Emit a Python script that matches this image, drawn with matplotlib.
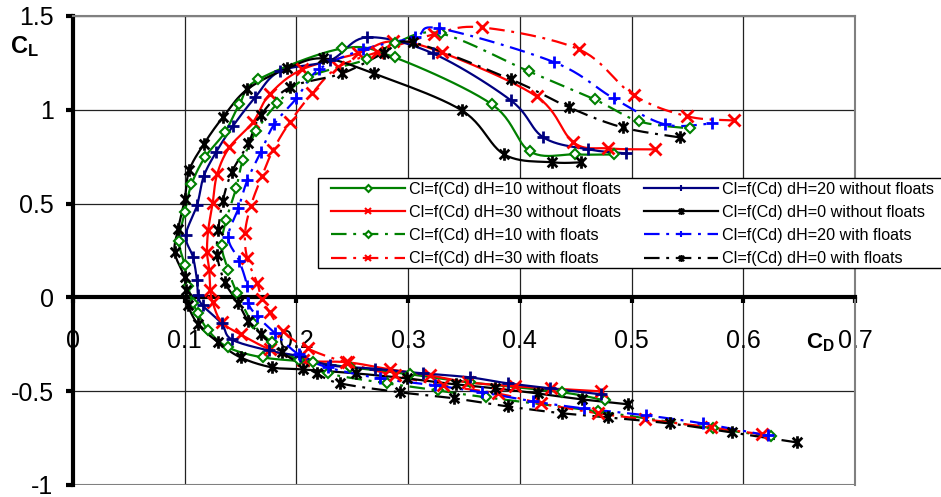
import numpy as np
import matplotlib
matplotlib.use('Agg')
import matplotlib.pyplot as plt
from matplotlib.path import Path
from matplotlib.patches import Rectangle

plt.rcParams['font.family'] = ['Liberation Sans', 'DejaVu Sans']
plt.rcParams['mathtext.fontset'] = 'custom'
plt.rcParams['mathtext.rm'] = 'Liberation Sans'
plt.rcParams['mathtext.bf'] = 'Liberation Sans:bold'

# dH=10 without floats
cd_10_no = [0.476, 0.438, 0.355, 0.302, 0.248, 0.215, 0.170, 0.139, 0.121, 0.112, 0.1075, 0.103, 0.100,
            0.095, 0.100, 0.106, 0.118, 0.136, 0.149, 0.166, 0.241, 0.288, 0.375, 0.409, 0.449, 0.484]
cl_10_no = [-0.549, -0.506, -0.453, -0.41, -0.373, -0.346, -0.320, -0.267, -0.176, -0.085, -0.032, 0.059, 0.171,
            0.299, 0.453, 0.602, 0.746, 0.880, 1.029, 1.162, 1.327, 1.279, 1.029, 0.778, 0.762, 0.762]

# dH=20 without floats
cd_20_no = [0.473, 0.427, 0.389, 0.355, 0.313, 0.27, 0.230, 0.203, 0.175, 0.142, 0.133, 0.116, 0.112, 0.111,
            0.1075, 0.101, 0.111, 0.117, 0.128, 0.143, 0.163, 0.185, 0.230, 0.263, 0.322, 0.392, 0.421,
            0.461, 0.495]
cl_20_no = [-0.517, -0.485, -0.458, -0.426, -0.405, -0.38, -0.362, -0.314, -0.283, -0.224, -0.139, -0.043, 0.011,
            0.091, 0.213, 0.330, 0.490, 0.645, 0.773, 0.912, 1.066, 1.205, 1.263, 1.386, 1.301, 1.050, 0.853,
            0.789, 0.768]

# dH=30 without floats
cd_30_no = [0.473, 0.428, 0.396, 0.354, 0.320, 0.284, 0.246, 0.206, 0.176, 0.150, 0.133, 0.125, 0.123, 0.122,
            0.120, 0.121, 0.125, 0.129, 0.140, 0.161, 0.176, 0.205, 0.255, 0.286, 0.330, 0.415, 0.448, 0.479,
            0.521]
cl_30_no = [-0.501, -0.485, -0.474, -0.453, -0.416, -0.384, -0.346, -0.336, -0.277, -0.197, -0.133, -0.027,
            0.037, 0.144, 0.240, 0.357, 0.501, 0.656, 0.800, 0.933, 1.082, 1.215, 1.301, 1.365, 1.306, 1.071,
            0.826, 0.794, 0.789]

# dH=0 without floats
cd_0_no = [0.497, 0.456, 0.416, 0.378, 0.343, 0.299, 0.253, 0.206, 0.178, 0.150, 0.130, 0.112, 0.103, 0.101,
           0.100, 0.091, 0.094, 0.100, 0.104, 0.117, 0.134, 0.156, 0.192, 0.224, 0.269, 0.348, 0.386, 0.429,
           0.455]
cl_0_no = [-0.570, -0.544, -0.512, -0.485, -0.464, -0.432, -0.405, -0.384, -0.373, -0.320, -0.240, -0.144,
           -0.043, 0.037, 0.107, 0.240, 0.362, 0.522, 0.677, 0.816, 0.959, 1.109, 1.221, 1.274, 1.194, 0.997,
           0.762, 0.720, 0.720]

# dH=10 with floats
cd_10_fl = [0.625, 0.573, 0.470, 0.370, 0.327, 0.281, 0.228, 0.202, 0.178, 0.161, 0.147, 0.139, 0.133, 0.137,
            0.146, 0.152, 0.164, 0.183, 0.210, 0.263, 0.288, 0.329, 0.408, 0.467, 0.507, 0.552]
cl_10_fl = [-0.741, -0.698, -0.608, -0.533, -0.496, -0.458, -0.405, -0.336, -0.240, -0.139, 0.021, 0.144,
            0.277, 0.410, 0.581, 0.730, 0.885, 1.034, 1.173, 1.269, 1.354, 1.407, 1.205, 1.055, 0.938, 0.901]

# dH=20 with floats
cd_20_fl = [0.622, 0.564, 0.513, 0.457, 0.412, 0.366, 0.324, 0.275, 0.228, 0.202, 0.181, 0.165, 0.157, 0.156,
            0.149, 0.139, 0.148, 0.156, 0.168, 0.180, 0.200, 0.220, 0.260, 0.306, 0.328, 0.431, 0.484, 0.530,
            0.572]
cl_20_fl = [-0.736, -0.672, -0.629, -0.592, -0.554, -0.506, -0.469, -0.432, -0.373, -0.304, -0.192, -0.101,
            -0.032, 0.059, 0.192, 0.320, 0.474, 0.624, 0.773, 0.922, 1.061, 1.215, 1.322, 1.386, 1.434, 1.253,
            1.061, 0.922, 0.928]

# dH=30 with floats
cd_30_fl = [0.617, 0.571, 0.512, 0.470, 0.419, 0.380, 0.331, 0.288, 0.244, 0.210, 0.188, 0.176, 0.169, 0.165,
            0.156, 0.154, 0.159, 0.169, 0.179, 0.194, 0.214, 0.237, 0.272, 0.323, 0.366, 0.453, 0.502, 0.550,
            0.592]
cl_30_fl = [-0.730, -0.693, -0.650, -0.618, -0.565, -0.512, -0.469, -0.416, -0.346, -0.272, -0.181, -0.080,
            -0.011, 0.075, 0.208, 0.341, 0.485, 0.645, 0.784, 0.933, 1.087, 1.226, 1.306, 1.402, 1.439, 1.322,
            1.077, 0.965, 0.943]

# dH=0 with floats
cd_0_fl = [0.648, 0.590, 0.534, 0.479, 0.438, 0.389, 0.341, 0.293, 0.239, 0.218, 0.187, 0.168, 0.157, 0.148,
           0.136, 0.129, 0.130, 0.134, 0.142, 0.157, 0.168, 0.194, 0.241, 0.278, 0.304, 0.392, 0.444, 0.492,
           0.543]
cl_0_fl = [-0.773, -0.720, -0.672, -0.640, -0.618, -0.581, -0.538, -0.506, -0.458, -0.405, -0.293, -0.197,
           -0.128, -0.032, 0.080, 0.224, 0.357, 0.512, 0.666, 0.821, 0.970, 1.119, 1.194, 1.301, 1.359, 1.162,
           1.013, 0.906, 0.853]

x_ticks = [0, 0.1, 0.2, 0.3, 0.4, 0.5, 0.6, 0.7]
x_tick_labels = ['0', '0.1', '0.2', '0.3', '0.4', '0.5', '0.6', '0.7']
y_ticks = [-1, -0.5, 0, 0.5, 1, 1.5]
y_tick_labels = ['-1', '-0.5', '0', '0.5', '1', '1.5']


def smooth(x, y, n=12):
    # Catmull-Rom through the points, like Excel's smoothed lines
    p = np.column_stack([x, y]).astype(float)
    p = np.vstack([p[0], p, p[-1]])
    out = []
    t = np.linspace(0, 1, n, endpoint=False)[:, None]
    for i in range(1, len(p) - 2):
        p0, p1, p2, p3 = p[i - 1], p[i], p[i + 1], p[i + 2]
        seg = 0.5 * ((2 * p1) + (-p0 + p2) * t + (2 * p0 - 5 * p1 + 4 * p2 - p3) * t ** 2
                     + (-p0 + 3 * p1 - 3 * p2 + p3) * t ** 3)
        out.append(seg)
    out.append(p[-2][None, :])
    out = np.vstack(out)
    return out[:, 0], out[:, 1]


# Excel style star: an x with a vertical bar through it
star = Path([(-1, -1), (1, 1), (-1, 1), (1, -1), (0, -1.3), (0, 1.3)],
            [Path.MOVETO, Path.LINETO, Path.MOVETO, Path.LINETO, Path.MOVETO, Path.LINETO])

dash_dot = (7, 3, 1.3, 3)

series = [
    (cd_10_no, cl_10_no, '#008000', 'D', None, 'Cl=f(Cd) dH=10 without floats'),
    (cd_30_no, cl_30_no, '#FF0000', 'x', None, 'Cl=f(Cd) dH=30 without floats'),
    (cd_10_fl, cl_10_fl, '#008000', 'D', dash_dot, 'Cl=f(Cd) dH=10 with floats'),
    (cd_30_fl, cl_30_fl, '#FF0000', 'x', dash_dot, 'Cl=f(Cd) dH=30 with floats'),
    (cd_20_no, cl_20_no, '#000080', '+', None, 'Cl=f(Cd) dH=20 without floats'),
    (cd_0_no, cl_0_no, '#000000', star, None, 'Cl=f(Cd) dH=0 without floats'),
    (cd_20_fl, cl_20_fl, '#0000FF', '+', dash_dot, 'Cl=f(Cd) dH=20 with floats'),
    (cd_0_fl, cl_0_fl, '#000000', star, dash_dot, 'Cl=f(Cd) dH=0 with floats'),
]

fig = plt.figure(figsize=(9.41, 4.97), dpi=100)
ax = fig.add_axes([73 / 941, 1 - 485 / 497, (855 - 73) / 941, (485 - 16) / 497])

handles = []
for cd, cl, col, mk, dashes, lab in series:
    sx, sy = smooth(cd, cl)
    ln, = ax.plot(sx, sy, color=col, lw=1.6, solid_capstyle='butt', dash_capstyle='butt', zorder=3)
    if dashes is not None:
        ln.set_dashes(dashes)
    if mk == 'D':
        ax.plot(cd, cl, ls='none', marker='D', ms=5.5, mew=1.5, mfc='white', mec=col, zorder=4)
    elif mk is star:
        ax.plot(cd, cl, ls='none', marker=mk, ms=9, mew=2, color=col, zorder=4)
    else:
        ax.plot(cd, cl, ls='none', marker=mk, ms=8, mew=2, color=col, zorder=4)
    # legend handle: line with a small marker in the middle
    h, = ax.plot([], [], color=col, lw=1.6, marker=mk, ms=3.5 if mk == 'D' else 5, mew=1.5,
                 mfc='white' if mk == 'D' else col, mec=col, label=lab)
    if dashes is not None:
        h.set_dashes(dashes)
    handles.append(h)

ax.set_xlim(0, 0.7)
ax.set_ylim(-1, 1.5)
ax.set_xticks(x_ticks)
ax.set_xticklabels(x_tick_labels)
ax.set_yticks(y_ticks)
ax.set_yticklabels(y_tick_labels)
ax.grid(True, color='#222222', lw=0.9)
ax.set_axisbelow(True)

ax.spines['bottom'].set_position(('data', 0))
ax.spines['bottom'].set_linewidth(3)
ax.spines['left'].set_linewidth(3)
ax.spines['bottom'].set_zorder(2.5)
ax.spines['left'].set_zorder(2.5)
for s in ['top', 'right']:
    ax.spines[s].set_color('#808080')
    ax.spines[s].set_linewidth(1.5)
ax.axhline(-1, color='#808080', lw=1.5, zorder=1)

ax.tick_params(axis='y', direction='out', length=5, width=3, pad=9, labelsize=18)
ax.tick_params(axis='x', direction='out', length=4, width=3, pad=19, labelsize=18)

fig.text(10 / 941, 1 - 53 / 497, r'$\mathbf{C_L}$', fontsize=17, ha='left', va='baseline')
fig.text(806 / 941, 1 - 348 / 497, r'$\mathbf{C_D}$', fontsize=16, ha='left', va='baseline')

# legend box drawn by hand so the inner margins match the original
fig.patches.append(Rectangle((318 / 941, 1 - 268 / 497), (960 - 318) / 941, 90 / 497,
                             transform=fig.transFigure, facecolor='white', edgecolor='black',
                             lw=1, zorder=5))
leg = fig.legend(handles=handles, loc='upper left', bbox_to_anchor=(331 / 941, 1 - 182 / 497),
                 ncol=2, fontsize=11.6, frameon=False, borderaxespad=0, borderpad=0,
                 handlelength=4.6, handletextpad=0.25, columnspacing=1.43,
                 labelspacing=0.5, numpoints=1)
leg.set_zorder(6)

fig.savefig('out.png', dpi=100)
